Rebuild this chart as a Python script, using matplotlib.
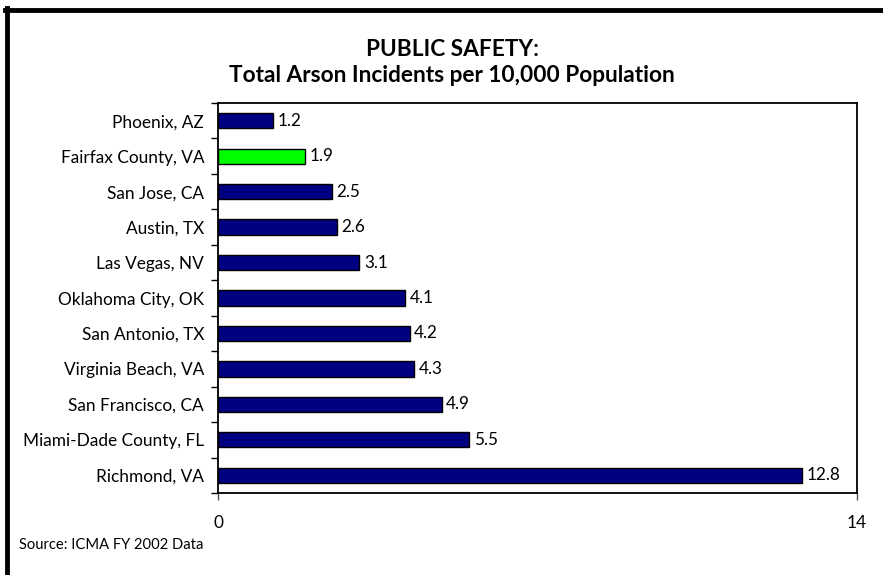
import matplotlib
matplotlib.use("Agg")
import matplotlib.pyplot as plt
from matplotlib.lines import Line2D
import numpy as np

plt.rcParams['font.family'] = ['Lato', 'DejaVu Sans']

categories = ["Phoenix, AZ", "Fairfax County, VA", "San Jose, CA", "Austin, TX",
              "Las Vegas, NV", "Oklahoma City, OK", "San Antonio, TX",
              "Virginia Beach, VA", "San Francisco, CA", "Miami-Dade County, FL",
              "Richmond, VA"]
values = [1.2, 1.9, 2.5, 2.6, 3.1, 4.1, 4.2, 4.3, 4.9, 5.5, 12.8]
highlight = "Fairfax County, VA"
x_ticks = [0, 14]
title_lines = ["PUBLIC SAFETY:", "Total Arson Incidents per 10,000 Population"]
source = "Source: ICMA FY 2002 Data"

W, H = 883, 575
fig = plt.figure(figsize=(W / 100, H / 100), dpi=100)
ax = fig.add_axes([218 / W, 1 - 493 / H, (857 - 218) / W, (493 - 103) / H])

n = len(categories)
ypos = np.arange(n)[::-1]
colors = ["#00FF00" if c == highlight else "#000080" for c in categories]
ax.barh(ypos, values, height=0.43, color=colors, edgecolor="black", linewidth=1.0)
for y, v in zip(ypos, values):
    ax.text(v + 0.1, y, f"{v:.1f}", va="center", ha="left", fontsize=12.3)

ax.set_xlim(0, 14)
ax.set_ylim(-0.5, n - 0.5)
ax.set_yticks(ypos)
ax.set_yticklabels(categories, fontsize=12.4)
ax.tick_params(axis="y", length=0, pad=10)
ax.set_yticks(np.arange(-0.5, n, 1.0), minor=True)
ax.tick_params(axis="y", which="minor", length=5, width=1, direction="out")
ax.set_xticks(x_ticks)
ax.set_xticklabels([str(t) for t in x_ticks], fontsize=12.4)
ax.tick_params(axis="x", length=5, width=1, direction="out", pad=11, color="#555555")
for s in ax.spines.values():
    s.set_linewidth(1.3)
    s.set_color("black")

fig.text(452 / W, 1 - 49 / H, title_lines[0], ha="center", va="center",
         fontsize=16.3, fontweight="bold")
fig.text(452 / W, 1 - 76 / H, title_lines[1], ha="center", va="center",
         fontsize=16.3, fontweight="bold")
fig.text(19 / W, 1 - 545 / H, source, ha="left", va="center", fontsize=10.6)

# figure border (top and left)
fig.add_artist(Line2D([5 / W, 1.0], [1 - 10 / H, 1 - 10 / H], color="black",
                      linewidth=3.5, transform=fig.transFigure))
fig.add_artist(Line2D([7 / W, 7 / W], [0, 1 - 8 / H], color="black",
                      linewidth=3.5, transform=fig.transFigure))

fig.savefig("out.png", dpi=100)
